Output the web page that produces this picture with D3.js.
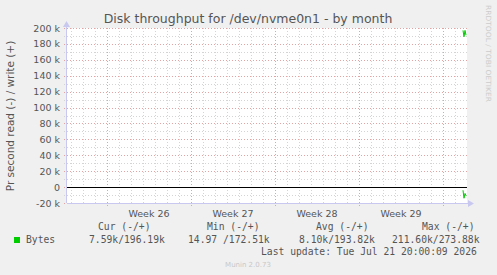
<!DOCTYPE html>
<html><head><meta charset="utf-8">
<script src="https://cdn.jsdelivr.net/npm/d3@7"></script>
<style>
html,body{margin:0;padding:0;background:#f0f0f0;}
svg{display:block;}
</style></head>
<body>
<script>
// ---- data ----
const title = "Disk throughput for /dev/nvme0n1 - by month";
const yLabel = "Pr second read (-) / write (+)";
const yTicks = [-20000, 0, 20000, 40000, 60000, 80000, 100000, 120000, 140000, 160000, 180000, 200000];
const yTickLabels = ["-20 k", "0", "20 k", "40 k", "60 k", "80 k", "100 k", "120 k", "140 k", "160 k", "180 k", "200 k"];
const weekLabels = ["Week 26", "Week 27", "Week 28", "Week 29"];
const weekStarts = ["2026-06-22", "2026-06-29", "2026-07-06", "2026-07-13"];
const sampleTimes = ["2026-07-21T16:00", "2026-07-21T18:00", "2026-07-21T20:00", "2026-07-21T22:00"];
const writeValues = [197000, 189000, 197000, 191000];
const readValues = [4000, 14000, 8000, 11000];
const legendHeaders = ["Cur (-/+)", "Min (-/+)", "Avg (-/+)", "Max (-/+)"];
const legendValues = ["7.59k/196.19k", "14.97 /172.51k", "8.10k/193.82k", "211.60k/273.88k"];
const seriesName = "Bytes";
const lastUpdate = "Last update: Tue Jul 21 20:00:09 2026";
const version = "Munin 2.0.73";

const W = 497, H = 275;
const svg = d3.select("body").append("svg").attr("width", W).attr("height", H);
svg.append("rect").attr("width", W).attr("height", H).attr("fill", "#f0f0f0");

const parseT = s => new Date(s + (s.length <= 10 ? "T00:00Z" : "Z"));
const x = d3.scaleUtc().domain([parseT("2026-06-18T16:00"), parseT("2026-07-22T00:00")]).range([67, 467]);
const y = d3.scaleLinear().domain([-20000, 200000]).range([203, 28]);

const L = 67, R = 467, T = 28, B = 203;
svg.append("rect").attr("x", L).attr("y", T).attr("width", R - L).attr("height", B - T).attr("fill", "#ffffff");

const minorCol = "#d4d4d4", majorCol = "#e2a3a3";
// horizontal minor grid (10k)
const minorY = d3.range(-10000, 200001, 20000);
svg.append("g").selectAll("line").data(minorY).join("line")
  .attr("x1", L - 3).attr("x2", R).attr("y1", d => Math.round(y(d)) + 0.5).attr("y2", d => Math.round(y(d)) + 0.5)
  .attr("stroke", minorCol).attr("stroke-dasharray", "1,2");
// vertical minor grid (days)
const days = d3.utcDay.range(x.domain()[0], x.domain()[1]).filter(d => d.getUTCDay() !== 1);
svg.append("g").selectAll("line").data(days).join("line")
  .attr("x1", d => Math.round(x(d)) + 0.5).attr("x2", d => Math.round(x(d)) + 0.5)
  .attr("y1", T).attr("y2", B + 2)
  .attr("stroke", minorCol).attr("stroke-dasharray", "1,2");
// major horizontal
svg.append("g").selectAll("line").data(yTicks).join("line")
  .attr("x1", L - 3).attr("x2", R).attr("y1", d => Math.round(y(d)) + 0.5).attr("y2", d => Math.round(y(d)) + 0.5)
  .attr("stroke", majorCol).attr("stroke-dasharray", "1,2");
// major vertical (Mondays)
const mondays = d3.utcMonday.range(x.domain()[0], x.domain()[1]);
svg.append("g").selectAll("line").data(mondays).join("line")
  .attr("x1", d => Math.round(x(d)) + 0.5).attr("x2", d => Math.round(x(d)) + 0.5)
  .attr("y1", T).attr("y2", B + 3)
  .attr("stroke", majorCol).attr("stroke-dasharray", "1,2");

// zero line
svg.append("line").attr("x1", L).attr("x2", R).attr("y1", Math.round(y(0)) + 0.5).attr("y2", Math.round(y(0)) + 0.5)
  .attr("stroke", "#000").attr("stroke-width", 1);

// axes
const axisCol = "#c8c8f0";
svg.append("line").attr("x1", L - 0.5).attr("x2", L - 0.5).attr("y1", B).attr("y2", T - 2).attr("stroke", axisCol);
svg.append("line").attr("x1", L).attr("x2", R + 3).attr("y1", B + 0.5).attr("y2", B + 0.5).attr("stroke", axisCol);
svg.append("path").attr("d", `M${L - 4},${T - 1} L${L - 0.5},${T - 7} L${L + 3},${T - 1} Z`).attr("fill", axisCol);
svg.append("path").attr("d", `M${R + 1},${B - 3} L${R + 7},${B + 0.5} L${R + 1},${B + 4} Z`).attr("fill", axisCol);

// data
const pts = sampleTimes.map((t, i) => ({ t: parseT(t), w: writeValues[i], r: readValues[i] }));
const lineW = d3.line().x(d => x(d.t)).y(d => y(d.w));
const lineR = d3.line().x(d => x(d.t)).y(d => y(-d.r));
svg.append("path").attr("d", lineW(pts)).attr("fill", "none").attr("stroke", "#00cc00").attr("stroke-width", 1);
svg.append("path").attr("d", lineR(pts)).attr("fill", "none").attr("stroke", "#00cc00").attr("stroke-width", 1);

const sans = "'DejaVu Sans', sans-serif", mono = "'DejaVu Sans Mono', monospace";
const txtCol = "#555555";
// y tick labels
svg.append("g").selectAll("text").data(yTicks).join("text")
  .attr("x", 60).attr("y", d => y(d) + 3.5).attr("text-anchor", "end")
  .attr("font-family", sans).attr("font-size", 9.5).attr("fill", txtCol)
  .text((d, i) => yTickLabels[i]);
// week labels
svg.append("g").selectAll("text").data(weekStarts).join("text")
  .attr("x", d => x(d3.utcHour.offset(parseT(d), 84))).attr("y", 216.5).attr("text-anchor", "middle")
  .attr("font-family", sans).attr("font-size", 9.5).attr("fill", txtCol)
  .text((d, i) => weekLabels[i]);
// title
svg.append("text").attr("x", 248).attr("y", 23).attr("text-anchor", "middle")
  .attr("font-family", sans).attr("font-size", 12.5).attr("fill", "#555").text(title);
// y label
svg.append("text").attr("transform", "translate(14,116) rotate(-90)").attr("text-anchor", "middle")
  .attr("font-family", sans).attr("font-size", 10.5).attr("fill", txtCol).text(yLabel);
// rrdtool
svg.append("text").attr("transform", "translate(486,5) rotate(90)")
  .attr("font-family", sans).attr("font-size", 7).attr("fill", "#cccccc")
  .attr("textLength", 97).attr("lengthAdjust", "spacingAndGlyphs").text("RRDTOOL / TOBI OETIKER");

// legend
const hdrX = [98, 207, 316, 422], valX = [89, 188, 299, 392];
svg.append("g").selectAll("text").data(legendHeaders).join("text")
  .attr("x", (d, i) => hdrX[i]).attr("y", 230).attr("font-family", mono).attr("font-size", 9.7)
  .attr("fill", txtCol).attr("xml:space", "preserve").style("white-space", "pre").text(d => d);
svg.append("g").selectAll("text").data(legendValues).join("text")
  .attr("x", (d, i) => valX[i]).attr("y", 242.5).attr("font-family", mono).attr("font-size", 9.7)
  .attr("fill", txtCol).style("white-space", "pre").text(d => d);
svg.append("rect").attr("x", 14).attr("y", 237).attr("width", 6).attr("height", 6).attr("fill", "#00cc00");
svg.append("text").attr("x", 26).attr("y", 242.5).attr("font-family", mono).attr("font-size", 9.7)
  .attr("fill", txtCol).text(seriesName);
svg.append("text").attr("x", 261).attr("y", 254.5).attr("font-family", mono).attr("font-size", 9.7)
  .attr("fill", txtCol).style("white-space", "pre").text(lastUpdate);
svg.append("text").attr("x", 248).attr("y", 266.5).attr("text-anchor", "middle").attr("font-family", sans)
  .attr("font-size", 7).attr("fill", "#c8c8c8").text(version);
</script>
</body></html>
